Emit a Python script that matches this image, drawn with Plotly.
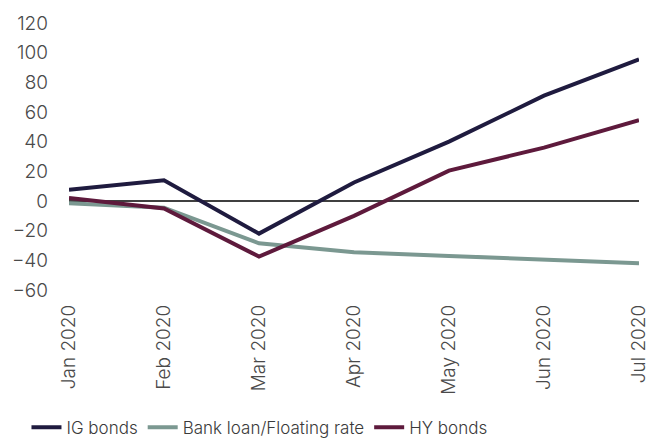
import plotly.graph_objects as go

months = ["Jan 2020", "Feb 2020", "Mar 2020", "Apr 2020", "May 2020", "Jun 2020", "Jul 2020"]
ig_bonds = [7.5, 14, -22, 12.5, 40, 71, 95.5]
bank_loan = [-1.5, -4.5, -28.5, -34.5, -37, -39.8, -42]
hy_bonds = [2, -5, -37.5, -10, 20.5, 36, 54.5]

series = [
    ("IG bonds", ig_bonds, "#1f1b3f"),
    ("Bank loan/Floating rate", bank_loan, "#7b9891"),
    ("HY bonds", hy_bonds, "#5e1a3c"),
]

fig = go.Figure()
for name, vals, color in series:
    fig.add_trace(go.Scatter(
        x=months, y=vals, name=name, mode="lines",
        line=dict(color=color, width=4),
    ))

font_family = "Inter"
fig.update_layout(
    width=662, height=441,
    margin=dict(l=67, r=20, t=20, b=151),
    paper_bgcolor="white", plot_bgcolor="white",
    font=dict(family=font_family, size=18, color="#4a4a4a", weight=300),
    showlegend=True,
    legend=dict(
        orientation="h", xref="container", x=0.04, xanchor="left",
        yref="container", y=0.03, yanchor="middle",
        font=dict(size=17, color="#3a3a3a", weight=300),
        itemwidth=30,
    ),
    xaxis=dict(
        type="category", range=[0, 6], showgrid=False, zeroline=False,
        showline=False, tickangle=-90, ticks="", ticklabelstandoff=10,
        tickfont=dict(size=19),
    ),
    yaxis=dict(
        range=[-60, 120], dtick=20, showgrid=False, zeroline=True,
        zerolinecolor="#404040", zerolinewidth=2, showline=False,
        ticks="", ticklabelstandoff=20, tickfont=dict(size=19),
    ),
)

fig.write_html("out.html")
